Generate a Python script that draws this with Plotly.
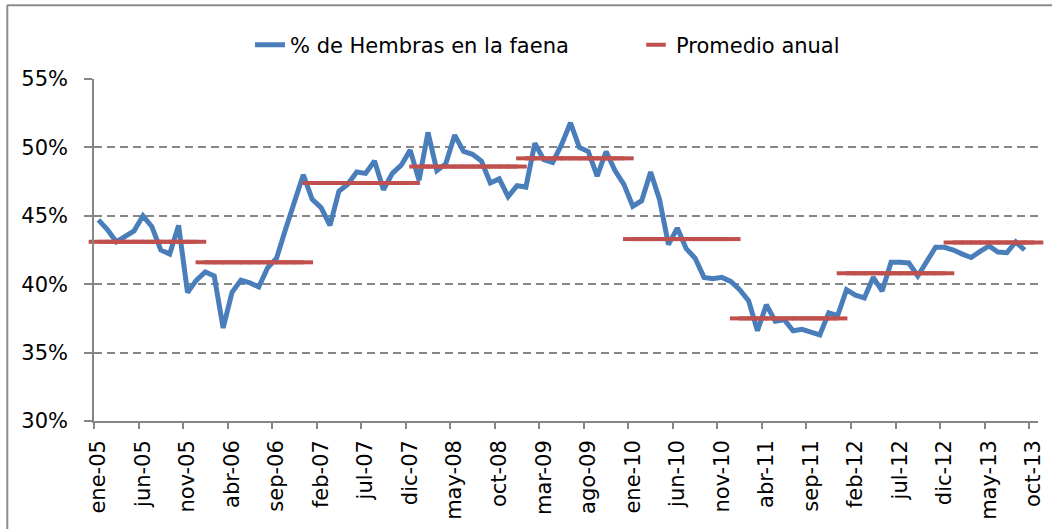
import plotly.graph_objects as go

# ---- data ----
month_abbr = ["ene", "feb", "mar", "abr", "may", "jun", "jul", "ago", "sep", "oct", "nov", "dic"]
years = ["05", "06", "07", "08", "09", "10", "11", "12", "13"]
months = [f"{m}-{y}" for y in years for m in month_abbr][:106]  # ene-05 .. oct-13

pct_hembras = [
    44.7, 44.0, 43.1, 43.5, 43.9, 45.0, 44.2, 42.5, 42.2, 44.3, 39.4, 40.3,   # 2005
    40.9, 40.6, 36.8, 39.4, 40.3, 40.1, 39.8, 41.2, 41.9, 44.0, 45.9, 48.0,   # 2006
    46.2, 45.6, 44.3, 46.8, 47.3, 48.2, 48.1, 49.0, 46.9, 48.1, 48.7, 49.8,   # 2007
    47.6, 51.1, 48.3, 48.8, 50.9, 49.7, 49.5, 49.0, 47.4, 47.7, 46.4, 47.2,   # 2008
    47.1, 50.3, 49.1, 48.9, 50.2, 51.8, 50.0, 49.7, 47.9, 49.7, 48.3, 47.3,   # 2009
    45.7, 46.1, 48.2, 46.2, 42.9, 44.1, 42.6, 41.9, 40.5, 40.4, 40.5, 40.2,   # 2010
    39.6, 38.8, 36.6, 38.5, 37.3, 37.4, 36.6, 36.7, 36.5, 36.3, 37.9, 37.7,   # 2011
    39.6, 39.2, 39.0, 40.5, 39.5, 41.6, 41.6, 41.55, 40.6, 41.7, 42.7, 42.7,  # 2012
    42.5, 42.2, 41.95, 42.4, 42.8, 42.35, 42.3, 43.1, 42.5, None,             # 2013
]

promedio_anual = [43.1, 41.6, 47.4, 48.6, 49.2, 43.3, 37.5, 40.8, 43.05]

tick_labels = months[::5]

# ---- build ----
x_idx = list(range(len(months)))
prom_monthly = [promedio_anual[i // 12] for i in x_idx]

FONT = "DejaVu Sans"
FS = 21
GRAY = "#868686"

L, R, T, B = 94, 14, 79, 108
W, H = 1052, 529
pw, ph = W - L - R, H - T - B


def px_x(px):
    return (px - L) / pw


def px_y(py):
    return (H - B - py) / ph


fig = go.Figure()
fig.add_trace(go.Scatter(
    x=x_idx, y=pct_hembras, mode="lines", name="% de Hembras en la faena",
    line=dict(color="#4A7EBB", width=5), connectgaps=False, legend="legend",
))
fig.add_trace(go.Scatter(
    x=x_idx, y=prom_monthly, mode="markers", name="Promedio anual",
    marker=dict(symbol="line-ew", size=14, color="#C0504D",
                line=dict(color="#C0504D", width=4)),
    cliponaxis=False, legend="legend2",
))

leg_common = dict(orientation="h", yanchor="middle", y=px_y(45), xanchor="left",
                  font=dict(family=FONT, size=FS, color="black"),
                  bgcolor="rgba(0,0,0,0)", borderwidth=0)

fig.update_layout(
    width=W, height=H,
    margin=dict(l=L, r=R, t=T, b=B, autoexpand=False),
    paper_bgcolor="white", plot_bgcolor="white",
    font=dict(family=FONT, size=FS, color="black"),
    showlegend=True,
    legend=dict(x=px_x(250), **leg_common),
    legend2=dict(x=px_x(636), **leg_common),
    xaxis=dict(
        automargin=False,
        range=[-0.5, len(months) - 0.5],
        tickmode="array", tickvals=x_idx[::5], ticktext=tick_labels,
        tickangle=-90, ticks="outside", ticklen=6, tickcolor="rgba(0,0,0,0)",
        ticklabelstandoff=3,
        tickfont=dict(family=FONT, size=FS, color="black"),
        showgrid=False, zeroline=False,
        showline=True, linecolor=GRAY, linewidth=1.5,
        minor=dict(tickmode="linear", tick0=-0.5, dtick=5, ticks="outside",
                   ticklen=6, tickcolor=GRAY, tickwidth=1.5, showgrid=False),
    ),
    yaxis=dict(
        automargin=False,
        range=[30, 55], tickmode="linear", tick0=30, dtick=5, ticksuffix="%",
        ticks="outside", ticklen=8, tickcolor=GRAY, tickwidth=1.5,
        ticklabelstandoff=12,
        tickfont=dict(family=FONT, size=FS, color="black"),
        showgrid=True, gridcolor=GRAY, gridwidth=1.5, griddash="8px,5px",
        zeroline=False, showline=True, linecolor=GRAY, linewidth=1.5,
    ),
    shapes=[
        dict(type="line", xref="paper", yref="paper",
             x0=px_x(7), x1=px_x(1060), y0=px_y(5.3), y1=px_y(5.3),
             line=dict(color="#8C8C8C", width=2)),
        dict(type="line", xref="paper", yref="paper",
             x0=px_x(7.3), x1=px_x(7.3), y0=px_y(5.3), y1=px_y(540),
             line=dict(color="#8C8C8C", width=2)),
    ],
)

fig.write_html("out.html",
               config={"displayModeBar": False},
               post_script="document.body.style.margin='0';document.body.style.overflow='hidden';")
